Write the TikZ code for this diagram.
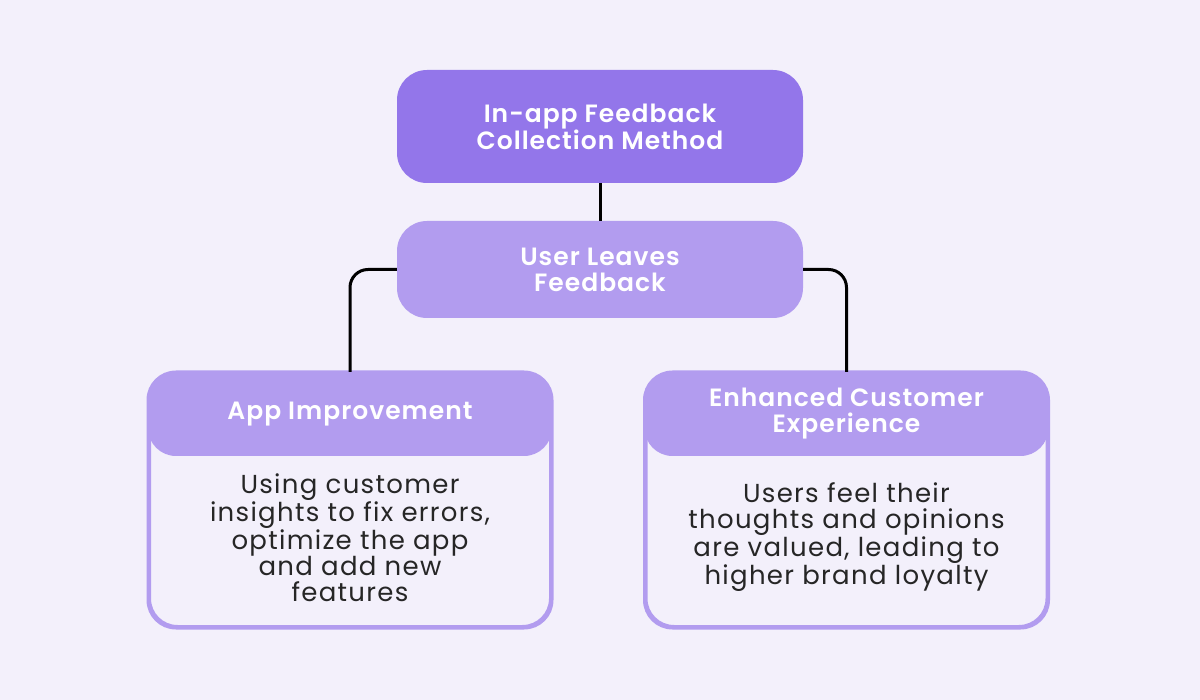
\documentclass[tikz,border=0pt]{standalone}
\usepackage{fontspec}
\setmainfont{Poppins}[BoldFont={Poppins SemiBold}]
\definecolor{bgc}{RGB}{243,240,251}
\definecolor{topc}{RGB}{147,118,234}
\definecolor{midc}{RGB}{178,156,239}
\definecolor{txt}{RGB}{38,38,38}
\begin{document}
\begin{tikzpicture}[x=1pt,y=-1pt,
  hdr/.style={text=white,font=\fontsize{25}{26}\selectfont\bfseries\addfontfeature{LetterSpace=4},align=center},
  topbox/.style={hdr,fill=topc,rounded corners=30pt,minimum width=406pt,minimum height=113pt},
  midbox/.style={hdr,fill=midc,rounded corners=30pt,minimum width=406pt,minimum height=97pt},
  card/.style={draw=midc,line width=3pt,fill=bgc,rounded corners=28pt,minimum width=401pt,minimum height=253pt},
  cardhead/.style={hdr,fill=midc,rounded corners=28pt,minimum width=404pt,minimum height=84pt},
  body/.style={text=txt,font=\fontsize{26}{26}\selectfont\addfontfeature{LetterSpace=5},align=center},
  conn/.style={draw=black,line width=3pt,rounded corners=18pt}]
\fill[bgc] (0,0) rectangle (1200,700);
\useasboundingbox (0,0) rectangle (1200,700);
\node[topbox] (top) at (600,126.5) {In-app Feedback\\Collection Method};
\node[midbox] (mid) at (600,269.5) {User Leaves\\Feedback};
\node[card] (L) at (350,500) {};
\node[card] (R) at (846.5,500) {};
\node[cardhead] (Lh) at (350,414) {App Improvement};
\node[cardhead] (Rh) at (846.5,414) {Enhanced Customer\\Experience};
\draw[card,fill=none] (L.north west) rectangle (L.south east);
\draw[card,fill=none] (R.north west) rectangle (R.south east);
\node[body] (Lb) at (350,538) {Using customer\\insights to fix errors,\\optimize the app\\and add new\\features};
\node[body] (Rb) at (846.5,537) {Users feel their\\thoughts and opinions\\are valued, leading to\\higher brand loyalty};
\draw[conn] (top.south) -- (mid.north);
\draw[conn] (mid.west) -| (L.north);
\draw[conn] (mid.east) -| (R.north);
\end{tikzpicture}
\end{document}
